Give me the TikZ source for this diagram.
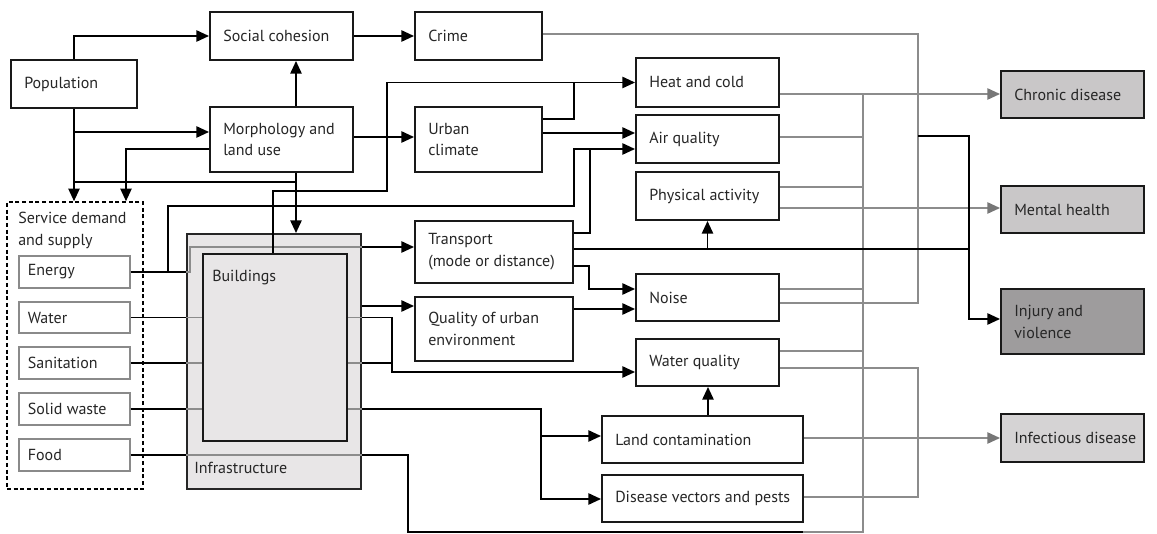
\documentclass[tikz,border=0pt]{standalone}
\usepackage{fontspec}
\setmainfont{PT Sans}
\usetikzlibrary{arrows.meta}
\definecolor{txt}{HTML}{262626}
\definecolor{gl}{HTML}{8C8C8C}
\definecolor{ga}{HTML}{777777}
\definecolor{infill}{HTML}{E8E6E7}
\definecolor{chrfill}{HTML}{C9C7C8}
\definecolor{injfill}{HTML}{9E9C9D}
\definecolor{inffill}{HTML}{D5D3D4}
\definecolor{svcline}{HTML}{8A8A8A}
\def\padpt{10.5pt}
\newcommand\mybox[7][]{%
  \pgfmathsetmacro\mbW{(#5-#3)*0.75}%
  \pgfmathsetmacro\mbH{(#6-#4)*0.75}%
  \pgfmathsetmacro\mbX{(#3+#5)/2}%
  \pgfmathsetmacro\mbY{(#4+#6)/2}%
  \node[box,#1,minimum width=\mbW pt,minimum height=\mbH pt] (#2) at (\mbX,\mbY) {};
  \node[lbl] (#2t) at ([xshift=\padpt]#2.west) {#7};}
\newcommand\myframe[6][]{%
  \pgfmathsetmacro\mbW{(#5-#3)*0.75}%
  \pgfmathsetmacro\mbH{(#6-#4)*0.75}%
  \pgfmathsetmacro\mbX{(#3+#5)/2}%
  \pgfmathsetmacro\mbY{(#4+#6)/2}%
  \node[box,#1,minimum width=\mbW pt,minimum height=\mbH pt] (#2) at (\mbX,\mbY) {};}
\begin{document}
\begin{tikzpicture}[x=0.75pt,y=-0.75pt,
  box/.style={draw=black!90, line width=1.5pt, fill=white, inner sep=0pt},
  svcbox/.style={draw=svcline, line width=1.1pt},
  lbl/.style={text=txt, font=\fontsize{12}{16.5}\selectfont, inner sep=0pt, anchor=west, align=left},
  conn/.style={line width=1.25pt, black},
  arr/.style={conn, -{Triangle[length=9.5pt,width=8.5pt]}},
  gconn/.style={line width=1.2pt, gl},
  garr/.style={gconn, -{Triangle[length=9.5pt,width=8.5pt,color=ga]}}
]
\useasboundingbox (0,0) rectangle (1157,534);

% frames
\myframe[draw=black, dash pattern=on 3pt off 2pt, line width=1.2pt, fill=none]{svc}{7}{202}{143}{489}
\node[lbl] (svct) at (18,230) {Service demand\\and supply};
\myframe[fill=infill, draw=black!85]{infra}{187}{234}{361}{489}
\myframe[fill=infill]{bld}{203}{254}{347}{441}
\node[lbl] (bldt) at (212,278) {Buildings};
\node[lbl] (inft) at (194,468) {Infrastructure};

% boxes
\mybox{pop}{11}{60}{137}{108}{Population}
\mybox{soc}{210}{12}{353}{60}{Social cohesion}
\mybox{morph}{210}{107}{353}{172}{Morphology and\\land use}
\mybox{crime}{415}{12}{542}{60}{Crime}
\mybox{urban}{415}{107}{542}{172}{Urban\\climate}
\mybox{trans}{415}{221}{573}{283}{Transport\\(mode or distance)}
\mybox{que}{415}{297}{573}{361}{Quality of urban\\environment}
\mybox{heat}{636}{58}{779}{107}{Heat and cold}
\mybox{air}{636}{115}{779}{163}{Air quality}
\mybox{phys}{636}{172}{779}{220}{Physical activity}
\mybox{noise}{636}{274}{779}{321}{Noise}
\mybox{wq}{636}{339}{779}{386}{Water quality}
\mybox{lc}{602}{416}{803}{463}{Land contamination}
\mybox{dv}{602}{475}{803}{522}{Disease vectors and pests}
\mybox[fill=chrfill]{chr}{1001}{71}{1144}{118}{Chronic disease}
\mybox[fill=chrfill]{mh}{1001}{186}{1144}{233}{Mental health}
\mybox[fill=injfill]{inj}{1001}{289}{1144}{354}{Injury and\\violence}
\mybox[fill=inffill]{inf}{1001}{414}{1144}{462}{Infectious disease}
\def\padpt{7pt}
\mybox[svcbox]{energy}{19}{256}{130}{288}{Energy}
\mybox[svcbox]{water}{19}{302}{130}{333}{Water}
\mybox[svcbox]{sanit}{19}{347}{130}{379}{Sanitation}
\mybox[svcbox]{solid}{19}{393}{130}{425}{Solid waste}
\mybox[svcbox]{food}{19}{439}{130}{471}{Food}

% grey connectors (health outcomes)
\draw[gconn] (863,94) -- (863,532) -- (803,532);
\draw[garr] (heat.east |- 0,94) -- (chr.west |- 0,94);
\draw[gconn] (air.east |- 0,137) -- (863,137);
\draw[gconn] (phys.east |- 0,187) -- (863,187);
\draw[garr] (phys.east |- 0,208) -- (mh.west |- 0,208);
\draw[gconn] (noise.east |- 0,289) -- (863,289);
\draw[gconn] (wq.east |- 0,351) -- (863,351);
\draw[gconn] (crime.east |- 0,34) -| (918,303) -- (noise.east |- 0,303);
\draw[gconn] (wq.east |- 0,368) -| (918,497) -- (dv.east |- 0,497);
\draw[garr] (lc.east |- 0,438) -- (inf.west |- 0,438);

% grey through infrastructure
\draw[gconn] (infra.west |- energy.east) -| (190,247) -- (infra.east |- 0,247);
\foreach \s in {water,sanit,solid} {
  \draw[gconn] (infra.west |- \s.east) -- (bld.west |- \s.east);
  \draw[gconn] (bld.east |- \s.east) -- (infra.east |- \s.east);
}
\draw[gconn] (infra.west |- food.east) -- (infra.east |- food.east);

% black connectors
\draw[arr] (pop.north) |- (soc.west);
\draw[arr] (pop.south) -- (pop.south |- svc.north);
\draw[arr] (pop.south |- 0,132) -- (morph.west |- 0,132);
\draw[arr] (morph.west |- 0,149) -| (svc.north -| 126,0);
\draw[conn] (morph.south -| 296,0) |- (pop.south |- 0,182);
\draw[arr] (morph.south -| 296,0) -- (infra.north -| 296,0);
\draw[arr] (morph.north -| 296,0) -- (soc.south -| 296,0);
\draw[arr] (soc.east) -- (crime.west);
\draw[arr] (morph.east |- 0,137) -- (urban.west |- 0,137);
\draw[arr] (bld.north -| 273,0) |- (387,191) |- (heat.west);
\draw[conn] (urban.east |- 0,119) -| (heat.west -| 574,0);
\draw[arr] (urban.east |- 0,133) -- (air.west |- 0,133);
\draw[conn] (energy.east) -- (infra.west |- energy.east);
\draw[arr] (energy.east -| 168,0) |- (574,206) |- (air.west |- 0,149);
\draw[arr] (infra.east |- 0,247) -- (trans.west |- 0,247);
\draw[conn] (trans.east |- 0,233) -| (590,149);
\draw[conn] (trans.east |- 0,249) -- (969,249);
\draw[arr] (phys.south |- 0,249) -- (phys.south);
\draw[arr] (trans.east |- 0,266) -| (589,289) -- (noise.west |- 0,289);
\draw[arr] (que.east |- 0,309) -- (noise.west |- 0,309);
\draw[arr] (infra.east |- 0,306) -- (que.west |- 0,306);
\foreach \s in {water,sanit,solid,food} {
  \draw[conn] (\s.east) -- (infra.west |- \s.east);
}
\draw[arr] (infra.east |- water.east) -| (392,372) -- (wq.west |- 0,372);
\draw[conn] (infra.east |- sanit.east) -- (sanit.east -| 392,0);
\draw[arr] (infra.east |- solid.east) -| (541,499) -- (dv.west |- 0,499);
\coordinate (lcj) at (541,436);
\draw[arr] (lcj) -- (lc.west |- lcj);
\draw[conn] (infra.east |- food.east) -| (408,532) -- (803,532);
\draw[arr] (lc.north -| 708,0) -- (wq.south -| 708,0);
\draw[arr] (918,136) -| (969,319) -- (inj.west |- 0,319);
\end{tikzpicture}
\end{document}
